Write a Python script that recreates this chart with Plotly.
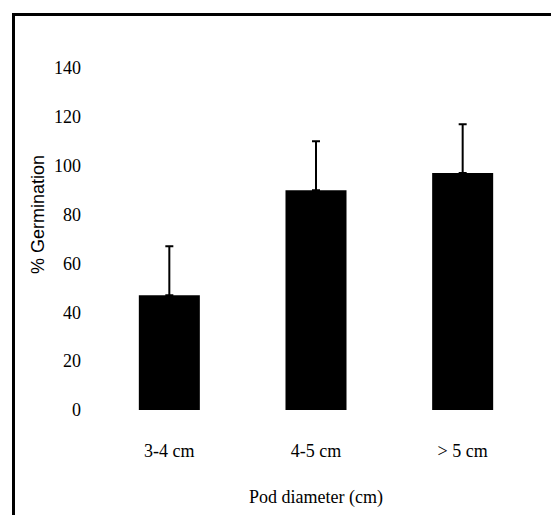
import plotly.graph_objects as go

categories = ["3-4 cm", "4-5 cm", "> 5 cm"]
germination = [47, 90, 97]
error_up = [20, 20, 20]
y_ticks = [0, 20, 40, 60, 80, 100, 120, 140]

W, H = 551, 515
ML, MR, MT, MB = 96, 15, 68, 105
pw = W - ML - MR
ph = H - MT - MB

def px(x):
    return (x - ML) / pw

def py(y):
    return (H - MB - y) / ph

fig = go.Figure()
fig.add_trace(go.Bar(
    x=categories, y=germination,
    marker=dict(color="black", line=dict(width=0)),
    error_y=dict(type="data", symmetric=False, array=error_up,
                 arrayminus=[0, 0, 0], color="black", thickness=2, width=4),
))

serif = "Liberation Serif, Times New Roman, serif"
fig.update_layout(
    width=W, height=H,
    margin=dict(l=ML, r=MR, t=MT, b=MB),
    paper_bgcolor="white", plot_bgcolor="white",
    bargap=0.584,
    showlegend=False,
    font=dict(family=serif, size=18, color="black"),
    xaxis=dict(showgrid=False, zeroline=False, showline=False, ticks="",
               tickfont=dict(family=serif, size=18, color="black"),
               ticklabelstandoff=28, range=[-0.5, 2.5]),
    yaxis=dict(range=[0, 140], tickvals=y_ticks, showgrid=False, zeroline=False,
               showline=False, ticks="", ticklabelstandoff=14,
               tickfont=dict(family=serif, size=18, color="black")),
    annotations=[
        dict(text="Pod diameter (cm)", xref="paper", yref="paper",
             x=px(316), y=py(497), showarrow=False,
             font=dict(family=serif, size=18, color="black"),
             xanchor="center", yanchor="middle"),
        dict(text="% Germination", xref="paper", yref="paper",
             x=px(38), y=py(215), showarrow=False, textangle=-90,
             font=dict(family="Liberation Sans, Arial, sans-serif", size=18, color="black"),
             xanchor="center", yanchor="middle"),
    ],
    shapes=[
        dict(type="line", xref="paper", yref="paper",
             x0=px(13.5), x1=px(13.5), y0=py(13), y1=py(520),
             line=dict(color="black", width=3)),
        dict(type="line", xref="paper", yref="paper",
             x0=px(12), x1=px(556), y0=py(14.5), y1=py(14.5),
             line=dict(color="black", width=3)),
    ],
)

fig.write_html("out.html", config={"displayModeBar": False},
               post_script="document.body.style.margin='0';")
